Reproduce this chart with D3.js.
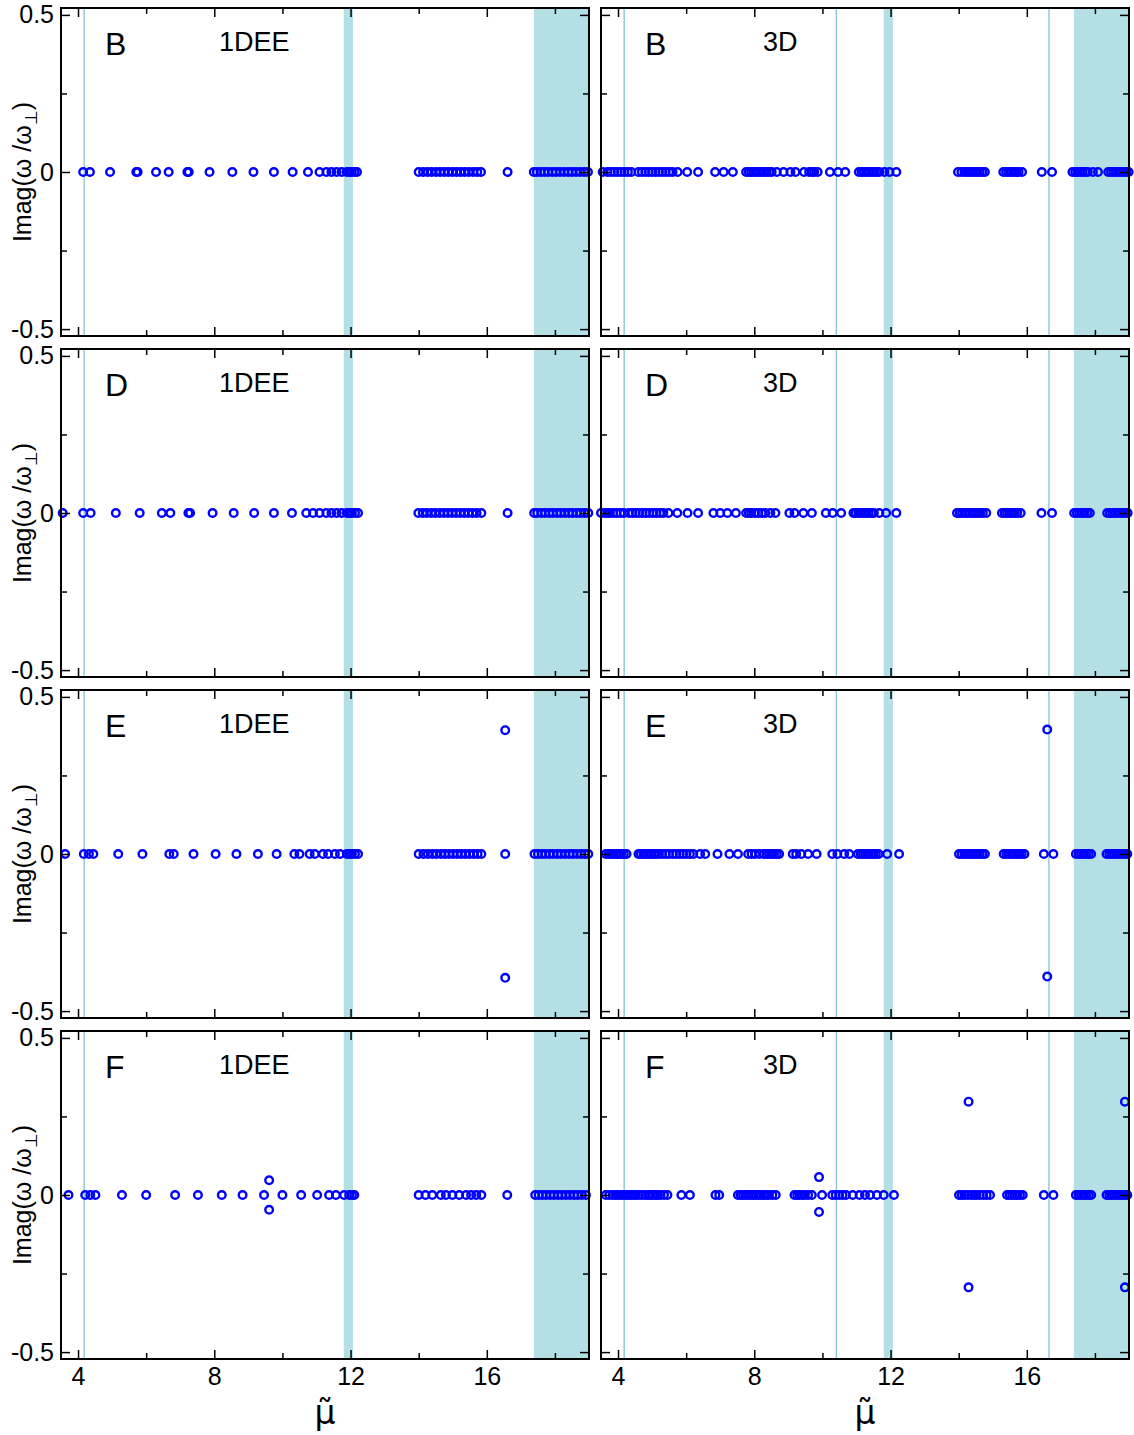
<!DOCTYPE html>
<html>
<head>
<meta charset="utf-8">
<script src="https://cdn.jsdelivr.net/npm/d3@7"></script>
<style>
body { margin: 0; background: #fff; }
text { font-family: "Liberation Sans", Arial, sans-serif; fill: #000; }
</style>
</head>
<body>
<svg id="chart" width="1134" height="1435"></svg>
<script>
// ---- data ----
var xMajor = [4, 8, 12, 16];
var xMinor = [6, 10, 14, 18];
var yMajor = [-0.5, 0, 0.5];
var yMinor = [-0.25, 0.25];
var yTickLabels = ["-0.5", "0", "0.5"];

var narrowBand = [11.8, 12.07];
var wideBand = [17.38, 19];
var lines1DEE = [4.18];
var lines3D = [4.18, 10.41, 16.65];

// real eigenvalues (Imag = 0), 1DEE
var realB1 = [4.15, 4.35, 4.94, 5.71, 5.75, 6.29, 6.66, 7.21, 7.25, 7.86, 8.53, 9.15, 9.75, 10.30, 10.75, 11.09, 11.29, 11.44, 11.59, 11.74, 11.89, 11.97, 12.04, 12.12, 12.19,
  14.0, 14.13, 14.26, 14.38, 14.51, 14.63, 14.75, 14.87, 14.99, 15.11, 15.23, 15.35, 15.47, 15.6, 15.72, 15.83,
  16.61,
  17.38, 17.47, 17.58, 17.69, 17.8, 17.92, 18.03, 18.15, 18.27, 18.39, 18.5, 18.62, 18.74, 18.86, 18.97];
var realD1 = [3.55, 4.15, 4.37, 5.11, 5.81, 6.46, 6.71, 7.24, 7.29, 7.95, 8.57, 9.17, 9.75, 10.28, 10.70, 10.90, 11.09, 11.29, 11.44, 11.59, 11.74, 11.89, 11.97, 12.04, 12.13, 12.22,
  13.99, 14.12, 14.24, 14.37, 14.49, 14.62, 14.74, 14.86, 14.98, 15.1, 15.22, 15.34, 15.46, 15.58, 15.7, 15.84,
  16.61,
  17.39, 17.48, 17.6, 17.71, 17.83, 17.94, 18.06, 18.17, 18.29, 18.41, 18.52, 18.64, 18.75, 18.87, 18.98];
var realE1 = [3.62, 4.17, 4.32, 4.45, 5.18, 5.89, 6.68, 6.81, 7.39, 8.04, 8.65, 9.28, 9.83, 10.35, 10.50, 10.80, 10.95, 11.19, 11.34, 11.54, 11.69, 11.89, 11.97, 12.04, 12.13, 12.22,
  14.0, 14.14, 14.27, 14.4, 14.52, 14.65, 14.77, 14.89, 15.01, 15.13, 15.25, 15.37, 15.49, 15.61, 15.73, 15.84,
  16.54,
  17.4, 17.5, 17.61, 17.72, 17.84, 17.95, 18.07, 18.18, 18.3, 18.42, 18.53, 18.65, 18.77, 18.88, 18.98];
var realF1 = [3.72, 4.21, 4.36, 4.51, 5.29, 6.00, 6.85, 7.52, 8.22, 8.83, 9.46, 10.0, 10.55, 11.02, 11.37, 11.57, 11.81, 11.96, 12.04, 12.11,
  14.0, 14.2, 14.4, 14.65, 14.8, 14.99, 15.19, 15.39, 15.54, 15.69, 15.84,
  16.6,
  17.42, 17.52, 17.63, 17.74, 17.86, 17.97, 18.09, 18.2, 18.32, 18.44, 18.56, 18.67, 18.79, 18.91];

// real eigenvalues, 3D
var realB3 = [3.55, 3.69, 3.79, 3.89, 3.99, 4.09, 4.19, 4.29, 4.39, 4.6, 4.7, 4.8, 4.9, 5.0, 5.1, 5.2, 5.3, 5.4, 5.5, 5.6, 5.75, 6.03, 6.35, 6.85, 7.1, 7.37, 7.76, 7.84, 7.91, 7.99, 8.06, 8.14, 8.21, 8.29, 8.36, 8.44, 8.51, 8.66, 8.86, 9.06, 9.21, 9.46, 9.61, 9.7, 9.76, 9.86, 10.22, 10.46, 10.67, 11.07, 11.15, 11.22, 11.3, 11.37, 11.45, 11.52, 11.6, 11.67, 11.82, 11.97, 12.17,
  13.98, 14.08, 14.17, 14.25, 14.32, 14.4, 14.47, 14.55, 14.62, 14.7, 14.77, 15.31, 15.39, 15.46, 15.54, 15.61, 15.69, 15.76, 15.86, 16.44, 16.74,
  17.34, 17.42, 17.49, 17.57, 17.64, 17.72, 17.79, 17.94, 18.09, 18.39, 18.47, 18.54, 18.62, 18.69, 18.77, 18.84, 18.92, 18.99];
var realD3 = [3.5, 3.61, 3.69, 3.76, 3.86, 3.96, 4.07, 4.17, 4.32, 4.42, 4.52, 4.62, 4.72, 4.82, 4.92, 5.03, 5.13, 5.23, 5.33, 5.48, 5.74, 6.04, 6.35, 6.8, 7.0, 7.21, 7.46, 7.76, 7.84, 7.91, 8.02, 8.12, 8.22, 8.32, 8.47, 8.62, 9.03, 9.18, 9.44, 9.69, 10.1, 10.3, 10.55, 10.91, 10.98, 11.06, 11.14, 11.21, 11.29, 11.36, 11.44, 11.51, 11.67, 11.87, 12.17,
  13.95, 14.03, 14.1, 14.18, 14.25, 14.33, 14.41, 14.48, 14.55, 14.63, 14.71, 14.81, 15.27, 15.35, 15.42, 15.5, 15.57, 15.65, 15.72, 15.82, 16.43, 16.74,
  17.39, 17.47, 17.54, 17.62, 17.69, 17.77, 17.85, 18.36, 18.44, 18.51, 18.59, 18.66, 18.74, 18.81, 18.88, 18.96];
var realE3 = [3.64, 3.72, 3.79, 3.87, 3.95, 4.02, 4.09, 4.17, 4.25, 4.6, 4.67, 4.75, 4.82, 4.9, 4.97, 5.05, 5.12, 5.2, 5.3, 5.4, 5.5, 5.61, 5.71, 5.81, 5.91, 6.01, 6.11, 6.21, 6.41, 6.56, 6.92, 7.27, 7.52, 7.82, 7.92, 8.02, 8.15, 8.28, 8.36, 8.43, 8.51, 8.58, 8.66, 8.73, 9.13, 9.23, 9.38, 9.58, 9.83, 10.29, 10.44, 10.64, 10.79, 11.04, 11.12, 11.19, 11.27, 11.35, 11.42, 11.5, 11.57, 11.65, 11.9, 12.25,
  14.01, 14.09, 14.17, 14.25, 14.32, 14.4, 14.47, 14.55, 14.62, 14.7, 14.77, 15.32, 15.4, 15.47, 15.55, 15.62, 15.7, 15.78, 15.85, 15.93, 16.5, 16.78,
  17.44, 17.52, 17.59, 17.67, 17.74, 17.82, 17.89, 18.34, 18.42, 18.49, 18.57, 18.64, 18.72, 18.8, 18.87, 18.95];
var realF3 = [3.64, 3.74, 3.84, 3.92, 3.99, 4.07, 4.15, 4.22, 4.3, 4.37, 4.45, 4.52, 4.6, 4.7, 4.8, 4.88, 4.95, 5.02, 5.1, 5.17, 5.25, 5.35, 5.45, 5.86, 6.11, 6.86, 6.97, 7.52, 7.6, 7.67, 7.75, 7.82, 7.9, 7.97, 8.05, 8.12, 8.2, 8.28, 8.36, 8.43, 8.53, 8.63, 9.18, 9.26, 9.33, 9.41, 9.48, 9.58, 9.69, 9.99, 10.29, 10.39, 10.49, 10.59, 10.69, 10.89, 11.09, 11.25, 11.4, 11.6, 11.8, 12.1,
  14.01, 14.09, 14.17, 14.27, 14.37, 14.45, 14.52, 14.62, 14.72, 14.82, 14.92, 15.42, 15.5, 15.57, 15.65, 15.72, 15.8, 15.88, 16.5, 16.78,
  17.44, 17.52, 17.59, 17.67, 17.74, 17.82, 17.89, 18.34, 18.42, 18.49, 18.57, 18.64, 18.72, 18.8, 18.87, 18.95];

// complex eigenvalues [mu, Imag]
var cplxE1 = [[16.54, 0.394], [16.54, -0.394]];
var cplxF1 = [[9.61, 0.047], [9.61, -0.047]];
var cplxE3 = [[16.6, 0.396], [16.6, -0.39]];
var cplxF3 = [[9.9, 0.057], [9.9, -0.054], [14.29, 0.297], [14.29, -0.294], [18.88, 0.297], [18.88, -0.294]];

var panels = [
  {label: "B", model: "1DEE", col: 0, row: 0, real: realB1, cplx: [], lines: lines1DEE},
  {label: "B", model: "3D",   col: 1, row: 0, real: realB3, cplx: [], lines: lines3D},
  {label: "D", model: "1DEE", col: 0, row: 1, real: realD1, cplx: [], lines: lines1DEE},
  {label: "D", model: "3D",   col: 1, row: 1, real: realD3, cplx: [], lines: lines3D},
  {label: "E", model: "1DEE", col: 0, row: 2, real: realE1, cplx: cplxE1, lines: lines1DEE},
  {label: "E", model: "3D",   col: 1, row: 2, real: realE3, cplx: cplxE3, lines: lines3D},
  {label: "F", model: "1DEE", col: 0, row: 3, real: realF1, cplx: cplxF1, lines: lines1DEE},
  {label: "F", model: "3D",   col: 1, row: 3, real: realF3, cplx: cplxF3, lines: lines3D}
];

// ---- layout ----
var svg = d3.select("#chart");
var colX = [61, 601], panelW = 528;
var rowY = [8, 349, 690, 1031], panelH = 328;

var x = d3.scaleLinear().domain([3.5, 19]).range([0, panelW]);
var y = d3.scaleLinear().domain([-0.522, 0.522]).range([panelH, 0]);

function styleAxis(g) {
  g.select(".domain").remove();
  g.selectAll(".tick line").attr("stroke", "#000").attr("stroke-width", 1.5);
  g.selectAll(".tick text").attr("font-size", 25).attr("font-family", "Liberation Sans, Arial, sans-serif").attr("fill", "#000");
}

panels.forEach(function(p, i) {
  var g = svg.append("g").attr("transform", "translate(" + colX[p.col] + "," + rowY[p.row] + ")");

  g.append("clipPath").attr("id", "clip" + i)
    .append("rect").attr("width", panelW).attr("height", panelH);
  var inner = g.append("g").attr("clip-path", "url(#clip" + i + ")");

  // shaded bands
  inner.selectAll("rect.band").data([narrowBand, wideBand]).enter()
    .append("rect").attr("class", "band")
    .attr("x", function(d) { return x(d[0]); })
    .attr("width", function(d) { return x(d[1]) - x(d[0]); })
    .attr("y", 0).attr("height", panelH)
    .attr("fill", "#b3dfe5");

  // thin vertical lines
  inner.selectAll("line.mark").data(p.lines).enter()
    .append("line").attr("class", "mark")
    .attr("x1", function(d) { return x(d); }).attr("x2", function(d) { return x(d); })
    .attr("y1", 0).attr("y2", panelH)
    .attr("stroke", "#84c3cf").attr("stroke-width", 1.3);

  // points
  var pts = p.real.map(function(v) { return [v, 0]; }).concat(p.cplx);
  g.selectAll("circle").data(pts).enter()
    .append("circle")
    .attr("cx", function(d) { return x(d[0]); })
    .attr("cy", function(d) { return y(d[1]); })
    .attr("r", 3.8)
    .attr("fill", "none")
    .attr("stroke", "#0000ff")
    .attr("stroke-width", 2.4);

  // axes, ticks pointing inward
  var last = p.row === 3;
  g.append("g").attr("transform", "translate(0," + panelH + ")")
    .call(d3.axisBottom(x).tickValues(xMajor).tickSize(-9).tickPadding(8)
      .tickFormat(last ? d3.format("d") : function() { return ""; }))
    .call(styleAxis);
  g.append("g").attr("transform", "translate(0," + panelH + ")")
    .call(d3.axisBottom(x).tickValues(xMinor).tickSize(-6).tickFormat(""))
    .call(styleAxis);
  g.append("g")
    .call(d3.axisTop(x).tickValues(xMajor).tickSize(-9).tickFormat(""))
    .call(styleAxis);
  g.append("g")
    .call(d3.axisTop(x).tickValues(xMinor).tickSize(-6).tickFormat(""))
    .call(styleAxis);
  g.append("g")
    .call(d3.axisLeft(y).tickValues(yMajor).tickSize(-9).tickPadding(7)
      .tickFormat(p.col === 0 ? function(d, k) { return yTickLabels[k]; } : function() { return ""; }))
    .call(styleAxis);
  g.append("g")
    .call(d3.axisLeft(y).tickValues(yMinor).tickSize(-6).tickFormat(""))
    .call(styleAxis);
  g.append("g").attr("transform", "translate(" + panelW + ",0)")
    .call(d3.axisRight(y).tickValues(yMajor).tickSize(-9).tickFormat(""))
    .call(styleAxis);
  g.append("g").attr("transform", "translate(" + panelW + ",0)")
    .call(d3.axisRight(y).tickValues(yMinor).tickSize(-6).tickFormat(""))
    .call(styleAxis);

  // frame
  g.append("rect").attr("width", panelW).attr("height", panelH)
    .attr("fill", "none").attr("stroke", "#000").attr("stroke-width", 2);

  // panel labels
  g.append("text").attr("x", 44).attr("y", 47)
    .attr("font-size", 32).text(p.label);
  g.append("text").attr("x", p.col === 0 ? 158 : 162).attr("y", 43)
    .attr("font-size", 27).text(p.model);

  // y title
  if (p.col === 0) {
    var t = svg.append("text")
      .attr("transform", "translate(" + 31 + "," + (rowY[p.row] + panelH / 2) + ") rotate(-90)")
      .attr("text-anchor", "middle")
      .attr("font-size", 25);
    t.append("tspan").text("Imag(\u03c9 /\u03c9");
    t.append("tspan").attr("font-size", 17).attr("dy", 6).text("\u22a5");
    t.append("tspan").attr("dy", -6).text(")");
  }
});

// x titles: mu with tilde
[0, 1].forEach(function(c) {
  var cx = colX[c] + panelW / 2;
  svg.append("text").attr("x", cx).attr("y", 1424).attr("text-anchor", "middle")
    .style("font-family", "'DejaVu Sans', sans-serif")
    .attr("font-size", 33).text("\u03bc\u0303");
});
</script>
</body>
</html>
